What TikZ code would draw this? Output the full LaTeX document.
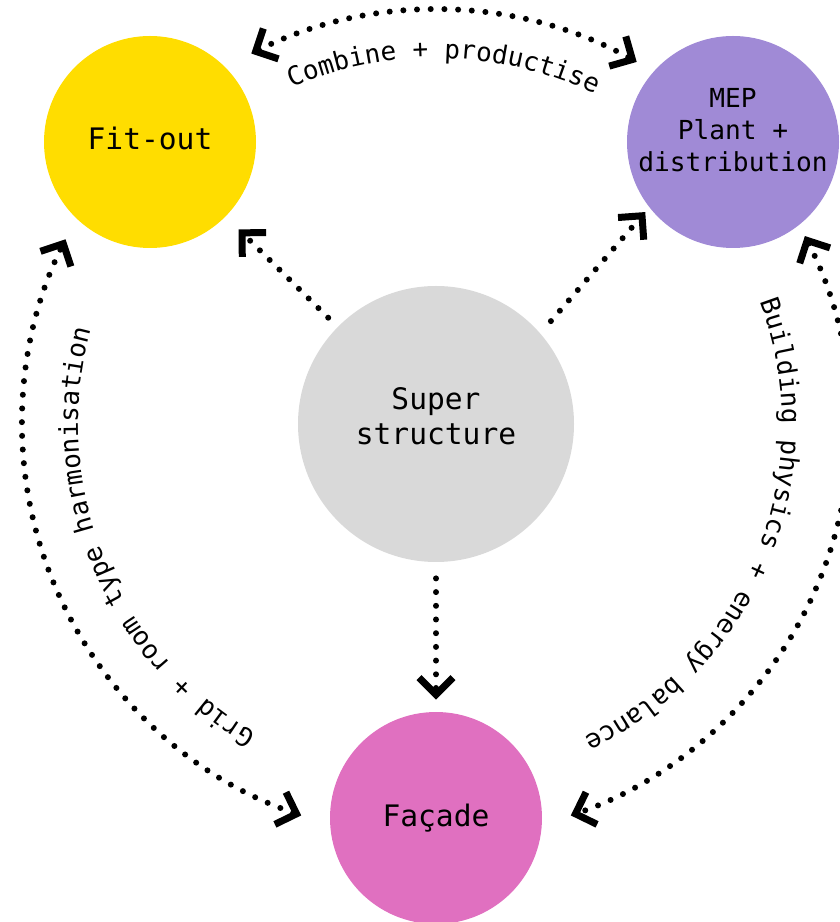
\documentclass[tikz,border=0pt]{standalone}
\usepackage{fontspec}
\setmonofont{DejaVu Sans Mono}
\usepackage{tikz}
\usetikzlibrary{arrows.meta, calc, decorations.text}
\definecolor{fitcolor}{HTML}{FFDD00}
\definecolor{mepcolor}{HTML}{A08AD6}
\definecolor{supcolor}{HTML}{D9D9D9}
\definecolor{faccolor}{HTML}{E070C0}
\newcommand{\bubblefont}{\ttfamily\fontsize{14.8}{17.5}\selectfont}
\newcommand{\mepfont}{\ttfamily\fontsize{13.1}{16}\selectfont}
\newcommand{\ringfont}{\ttfamily\fontsize{13}{16}\selectfont}

\begin{document}
\begin{tikzpicture}[x=0.5pt, y=0.5pt,
    % Discipline bubbles: flat filled circles, text set on top of them.
    bubble/.style={circle, draw=none, minimum size=106pt, inner sep=0pt},
    % The structure sits in the middle and is a little larger.
    corebubble/.style={bubble, minimum size=138pt},
    bubbletext/.style={align=center, font=\bubblefont, inner sep=0pt},
    % Dotted connectors ending in open right-angled heads.
    head/.tip={Straight Barb[length=8.5pt, width=17pt, line width=3.5pt, sharp]},
    flow/.style={line width=3pt, line cap=round,
                 dash pattern=on 0pt off 6.85pt, -head},
    % Interfaces between the outer disciplines: heads on both ends.
    biflow/.style={flow, head-head}
]
    \useasboundingbox (0,0) rectangle (840,922);
    \clip (0,0) rectangle (840,922);

    % === Bubbles ===
    \node[corebubble, fill=supcolor] (sup) at (436,498) {};
    \node[bubble, fill=fitcolor] (fit) at (150,780) {};
    \node[bubble, fill=mepcolor] (mep) at (733,780) {};
    \node[bubble, fill=faccolor] (fac) at (436,104) {};

    \node[bubbletext] (supT) at ($(sup)+(0,8)$) {Super\\structure};
    \node[bubbletext] (fitT) at ($(fit)+(0,4)$) {Fit-out};
    \node[bubbletext, font=\mepfont] (mepT) at ($(mep)+(0,12)$)
        {MEP\\Plant +\\distribution};
    \node[bubbletext] (facT) at (fac) {Façade};

    % === Structure drives the other three ===
    \draw[flow, shorten <=6.5pt, shorten >=9pt] (sup) -- (fit);
    \draw[flow, shorten <=8pt, shorten >=3pt] (sup.41) -- (mep.218);
    \draw[flow, shorten <=8pt, shorten >=6pt] (sup) -- (fac);

    % === Ring of interfaces ===
    % All three arcs lie on one circle round the structure bubble,
    % traced clockwise; the labels run on a smaller circle inside.
    \coordinate (fitR) at ($(sup)+(116.5:207pt)$);
    \coordinate (mepB) at ($(sup)+(27:207pt)$);
    \coordinate (facL) at ($(sup)+(251:207pt)$);

    % Fit-out <-> MEP
    \draw[biflow] (fitR) arc[start angle=116.5, end angle=61, radius=207pt];
    \path[decorate, decoration={text along path, text align=center,
          text={|\ringfont|Combine + productise}}]
        ($(sup)+(116.5:183pt)$) arc[start angle=116.5, end angle=61, radius=183pt];

    % MEP <-> Facade
    \draw[biflow] (mepB) arc[start angle=27, end angle=-71, radius=207pt];
    \path[decorate, decoration={text along path, text align=center,
          text={|\ringfont|Building physics + energy balance}}]
        ($(sup)+(27:173pt)$) arc[start angle=27, end angle=-71, radius=173pt];

    % Facade <-> Fit-out
    \draw[biflow] (facL) arc[start angle=251, end angle=153.5, radius=207pt];
    \path[decorate, decoration={text along path, text align=center,
          text={|\ringfont|Grid + room type harmonisation}}]
        ($(sup)+(251:179pt)$) arc[start angle=251, end angle=153.5, radius=179pt];

\end{tikzpicture}
\end{document}
